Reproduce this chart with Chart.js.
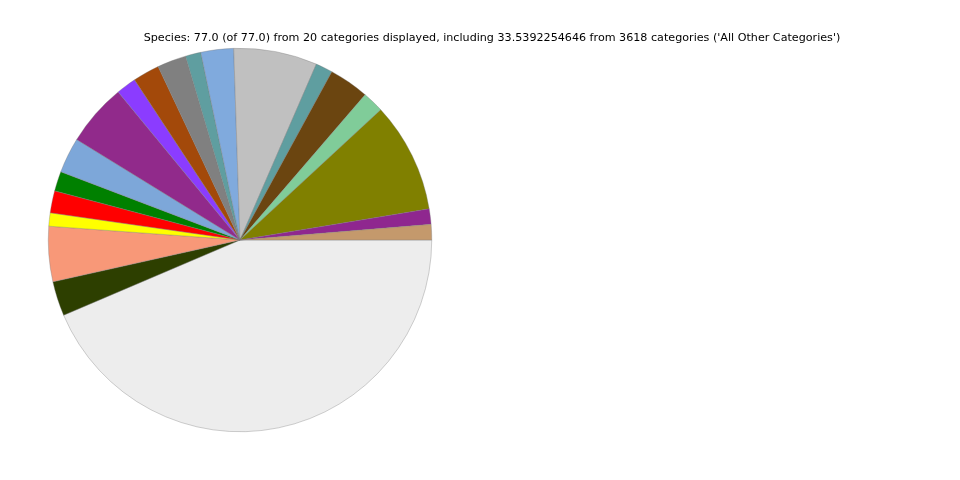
<!DOCTYPE html>
<html>
<head>
<meta charset="utf-8">
<script src="https://cdn.jsdelivr.net/npm/chart.js@4.4.1/dist/chart.umd.min.js"></script>
<style>
  html, body { margin: 0; padding: 0; background: #fff; }
  #wrap { width: 960px; height: 480px; }
</style>
</head>
<body>
<div id="wrap"><canvas id="pieChart" width="960" height="480"></canvas></div>
<script>
// categories in counter-clockwise order from 3 o'clock (as in the source plot)
const categories = [
  "Category 1", "Category 2", "Category 3", "Category 4", "Category 5",
  "Category 6", "Category 7", "Category 8", "Category 9", "Category 10",
  "Category 11", "Category 12", "Category 13", "Category 14", "Category 15",
  "Category 16", "Category 17", "Category 18", "Category 19", "All Other Categories"
];
const values = [
  1.0, 1.0, 7.14, 1.39, 2.59,
  1.10, 5.42, 2.12, 1.0, 1.88,
  1.73, 1.30, 4.05, 2.30, 1.28,
  1.43, 0.86, 3.58, 2.24, 33.5392254646
];
const colors = [
  "#c4996c", "#8f278f", "#808000", "#80cc99", "#6b4510",
  "#5f9ea0", "#c0c0c0", "#80aadd", "#5f9ea0", "#808080",
  "#a3490a", "#8b3cff", "#912a8b", "#7da7d9", "#008000",
  "#ff0000", "#ffff00", "#f89878", "#2d3f00", "#ededed"
];
const titleText = "Species: 77.0 (of 77.0) from 20 categories displayed, including 33.5392254646 from 3618 categories ('All Other Categories')";

// Chart.js goes clockwise, so reverse the order and start at 3 o'clock
const labelsCw = categories.slice().reverse();
const valuesCw = values.slice().reverse();
const colorsCw = colors.slice().reverse();

// draws the figure title above the pie
const figTitle = {
  id: "figTitle",
  afterDraw(chart) {
    const ctx = chart.ctx;
    ctx.save();
    ctx.font = "11.15px 'DejaVu Sans'";
    ctx.fillStyle = "#000";
    ctx.textAlign = "center";
    ctx.textBaseline = "middle";
    ctx.fillText(titleText, 492, 38.5);
    ctx.restore();
  }
};

const chart = new Chart(document.getElementById("pieChart").getContext("2d"), {
  type: "pie",
  data: {
    labels: labelsCw,
    datasets: [{
      data: valuesCw,
      backgroundColor: colorsCw,
      borderColor: "rgba(120,120,120,0.7)",
      borderWidth: 0.5
    }]
  },
  options: {
    responsive: false,
    animation: false,
    rotation: 90,
    layout: { padding: { left: 48, top: 48, right: 528, bottom: 48 } },
    plugins: {
      legend: { display: false },
      tooltip: { enabled: false },
      title: { display: false }
    }
  },
  plugins: [figTitle]
});
</script>
</body>
</html>
